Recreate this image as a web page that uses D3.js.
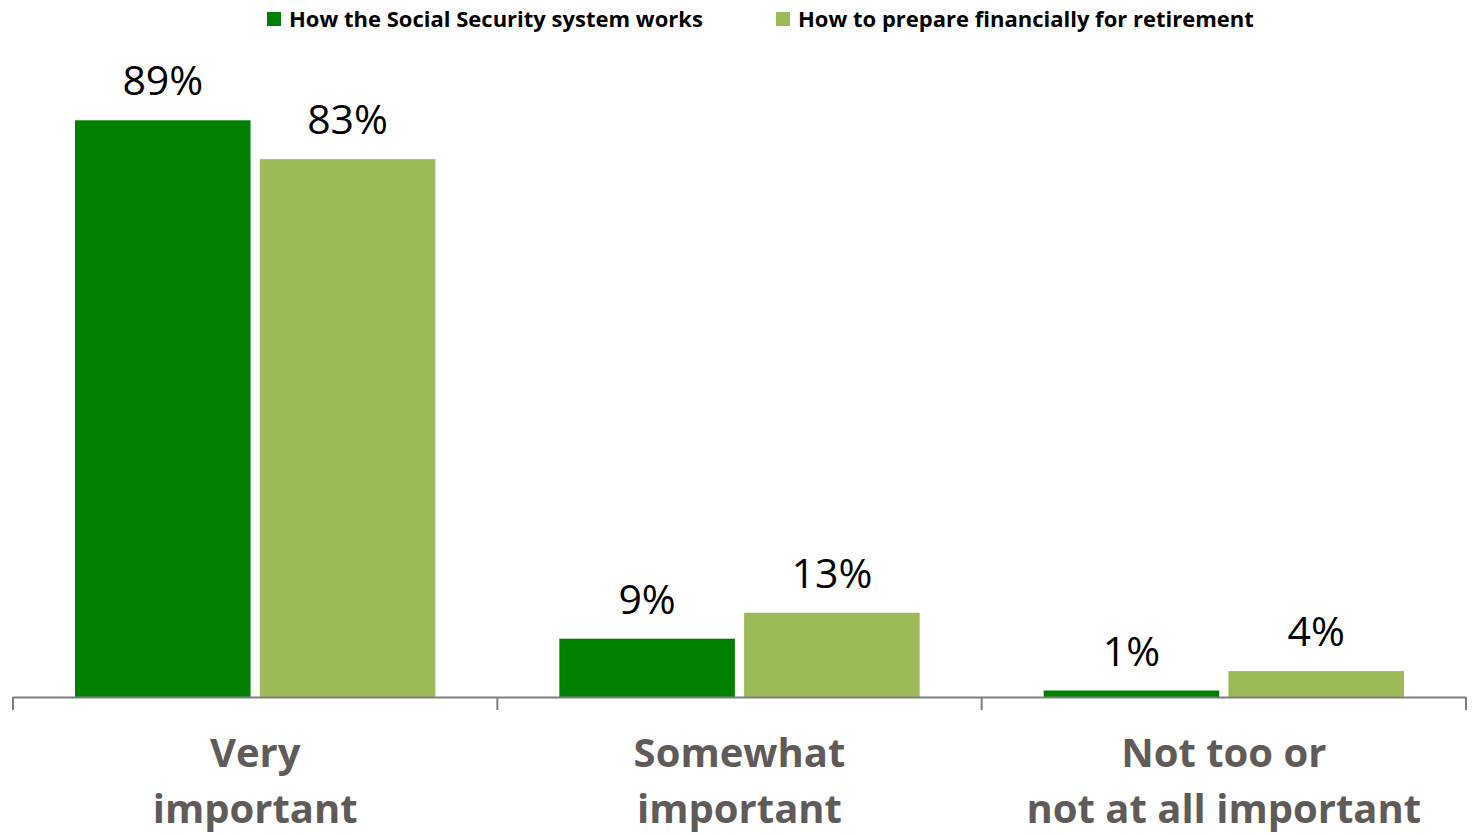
<!DOCTYPE html>
<html>
<head>
<meta charset="utf-8">
<script src="https://cdn.jsdelivr.net/npm/d3@7"></script>
<style>
  html, body { margin: 0; padding: 0; background: #fff; }
  svg { display: block; font-family: "Open Sans", Lato, sans-serif; }
</style>
</head>
<body>
<svg id="chart" width="1473" height="836"></svg>
<script>
// Survey categories and the share choosing each for the two topics
const categories = ["Very important", "Somewhat important", "Not too or not at all important"];
const categoryLines = [["Very", "important"], ["Somewhat", "important"], ["Not too or", "not at all important"]];
const seriesNames = ["How the Social Security system works", "How to prepare financially for retirement"];
const socialSecurity = [89, 9, 1];
const prepareRetirement = [83, 13, 4];
const seriesColors = ["#008000", "#9BBB59"];

const svg = d3.select("#chart");
const W = 1473, H = 836;
const margin = { left: 13, right: 7, top: 49, baseline: 697 };

const x0 = d3.scaleBand()
  .domain(categories)
  .range([margin.left, W - margin.right])
  .paddingInner(0)
  .paddingOuter(0);

const groupInset = 62;
const x1 = d3.scaleBand()
  .domain(seriesNames)
  .range([0, x0.bandwidth() - 2 * groupInset])
  .paddingInner(0.05);

const y = d3.scaleLinear().domain([0, 100]).range([margin.baseline, margin.top]);

const rows = categories.map((c, i) => ({
  category: c,
  lines: categoryLines[i],
  values: [socialSecurity[i], prepareRetirement[i]]
}));

// Bars
const groups = svg.append("g").selectAll("g.group")
  .data(rows)
  .join("g")
  .attr("class", "group")
  .attr("transform", d => `translate(${x0(d.category) + groupInset},0)`);

groups.selectAll("rect")
  .data(d => d.values.map((v, j) => ({ name: seriesNames[j], value: v, j })))
  .join("rect")
  .attr("x", d => x1(d.name))
  .attr("width", x1.bandwidth())
  .attr("y", d => y(d.value))
  .attr("height", d => y(0) - y(d.value))
  .attr("fill", d => seriesColors[d.j]);

// Value labels
groups.selectAll("text.value")
  .data(d => d.values.map((v, j) => ({ name: seriesNames[j], value: v })))
  .join("text")
  .attr("class", "value")
  .attr("x", d => x1(d.name) + x1.bandwidth() / 2)
  .attr("y", d => y(d.value) - 25)
  .attr("text-anchor", "middle")
  .attr("font-size", 41)
  .attr("fill", "#000")
  .text(d => d.value + "%");

// Category axis: baseline with ticks at band edges
const axisG = svg.append("g");
axisG.append("line")
  .attr("x1", x0.range()[0]).attr("x2", x0.range()[1])
  .attr("y1", y(0) + 0.5).attr("y2", y(0) + 0.5)
  .attr("stroke", "#7f7f7f").attr("stroke-width", 2);

const edges = categories.map(c => x0(c)).concat([x0.range()[1]]);
axisG.selectAll("line.tick")
  .data(edges)
  .join("line")
  .attr("class", "tick")
  .attr("x1", d => d).attr("x2", d => d)
  .attr("y1", y(0)).attr("y2", y(0) + 13)
  .attr("stroke", "#7f7f7f").attr("stroke-width", 2);

// Category labels, two lines each
axisG.selectAll("text.cat")
  .data(rows)
  .join("text")
  .attr("class", "cat")
  .attr("text-anchor", "middle")
  .attr("font-size", 40)
  .attr("font-weight", "bold")
  .attr("fill", "#605B58")
  .each(function (d) {
    const cx = x0(d.category) + x0.bandwidth() / 2;
    d3.select(this).selectAll("tspan")
      .data(d.lines)
      .join("tspan")
      .attr("x", cx)
      .attr("y", (l, k) => 767 + k * 56)
      .text(l => l);
  });

// Legend
const legendX = [267, 776];
const legend = svg.append("g").selectAll("g")
  .data(seriesNames)
  .join("g")
  .attr("transform", (d, i) => `translate(${legendX[i]},0)`);
legend.append("rect")
  .attr("x", 0).attr("y", 12)
  .attr("width", 14).attr("height", 14)
  .attr("fill", (d, i) => seriesColors[i]);
legend.append("text")
  .attr("x", 22).attr("y", 27)
  .attr("font-size", 22)
  .attr("font-weight", "bold")
  .attr("fill", "#000")
  .text(d => d);
</script>
</body>
</html>
